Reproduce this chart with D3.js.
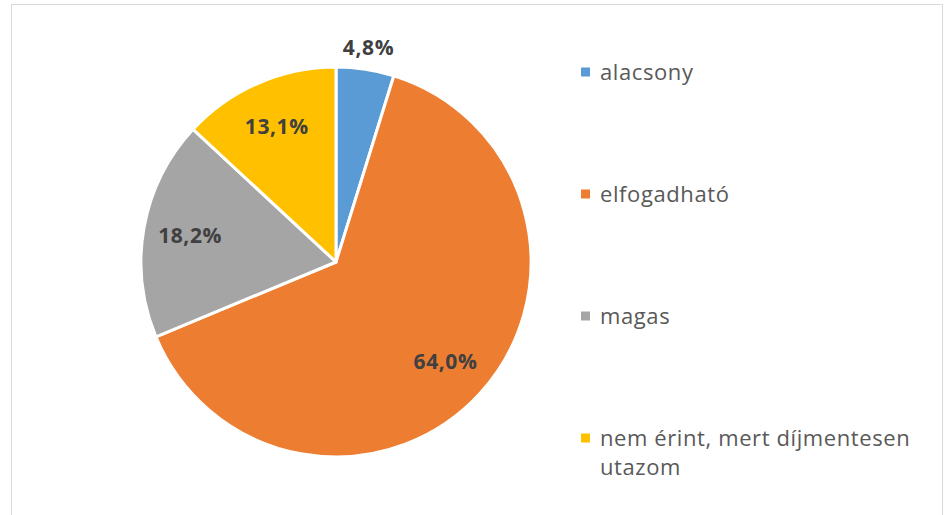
<!DOCTYPE html>
<html>
<head>
<meta charset="utf-8">
<script src="https://cdn.jsdelivr.net/npm/d3@7"></script>
<style>
  body { margin: 0; background: #fff; }
  svg { display: block; font-family: "Open Sans", "Noto Sans", sans-serif; }
</style>
</head>
<body>
<div id="chart"></div>
<script>
// adatok
const categories = ["alacsony", "elfogadható", "magas", "nem érint, mert díjmentesen utazom"];
const values = [4.8, 64.0, 18.2, 13.1];
const labels = ["4,8%", "64,0%", "18,2%", "13,1%"];
const legendLines = [["alacsony"], ["elfogadható"], ["magas"], ["nem érint, mert díjmentesen", "utazom"]];

const width = 944, height = 515;
const cx = 336, cy = 262, radius = 195;

const svg = d3.select("#chart").append("svg")
  .attr("width", width).attr("height", height);

// keret
svg.append("rect")
  .attr("x", 11.5).attr("y", 4.5)
  .attr("width", 931).attr("height", 520)
  .attr("fill", "none").attr("stroke", "#d9d9d9").attr("stroke-width", 1);

const color = d3.scaleOrdinal()
  .domain(categories)
  .range(["#5b9bd5", "#ed7d31", "#a5a5a5", "#ffc000"]);

const pie = d3.pie().value(d => d.value).sort(null);
const data = categories.map((c, i) => ({ name: c, value: values[i], label: labels[i] }));

const g = svg.append("g").attr("transform", "translate(" + cx + "," + cy + ")");

const arc = d3.arc().innerRadius(0).outerRadius(radius);

g.selectAll(".slice")
  .data(pie(data))
  .enter()
  .append("path")
  .attr("class", "slice")
  .attr("d", arc)
  .attr("fill", d => color(d.data.name))
  .attr("stroke", "#fff")
  .attr("stroke-width", 3)
  .attr("stroke-linejoin", "round");

// címkék: a kicsi szelet kívül, a többi belül
const labelRadius = d => (d.endAngle - d.startAngle) < 0.5 ? radius * 1.11 : radius * 0.76;

g.selectAll(".lbl")
  .data(pie(data))
  .enter()
  .append("text")
  .attr("class", "lbl")
  .attr("transform", d => {
    const a = (d.startAngle + d.endAngle) / 2;
    const r = labelRadius(d);
    return "translate(" + (Math.sin(a) * r) + "," + (-Math.cos(a) * r) + ")";
  })
  .attr("dy", "0.35em")
  .attr("text-anchor", "middle")
  .attr("font-size", "21px")
  .attr("letter-spacing", "0.6px")
  .attr("font-weight", "bold")
  .attr("fill", "#404040")
  .text(d => d.data.label);

// jelmagyarázat
const legendY = d3.scalePoint().domain(categories).range([72, 438]);

const leg = svg.append("g").selectAll(".leg")
  .data(categories)
  .enter()
  .append("g")
  .attr("class", "leg")
  .attr("transform", d => "translate(581," + legendY(d) + ")");

leg.append("rect")
  .attr("x", 0).attr("y", -4.5)
  .attr("width", 9).attr("height", 9)
  .attr("fill", d => color(d));

leg.append("text")
  .attr("x", 19)
  .attr("font-size", "22px")
  .attr("letter-spacing", "0.6px")
  .attr("fill", "#595959")
  .selectAll("tspan")
  .data((d, i) => legendLines[i])
  .enter()
  .append("tspan")
  .attr("x", 19)
  .attr("dy", (d, j) => j === 0 ? "0.35em" : "29px")
  .text(d => d);
</script>
</body>
</html>
